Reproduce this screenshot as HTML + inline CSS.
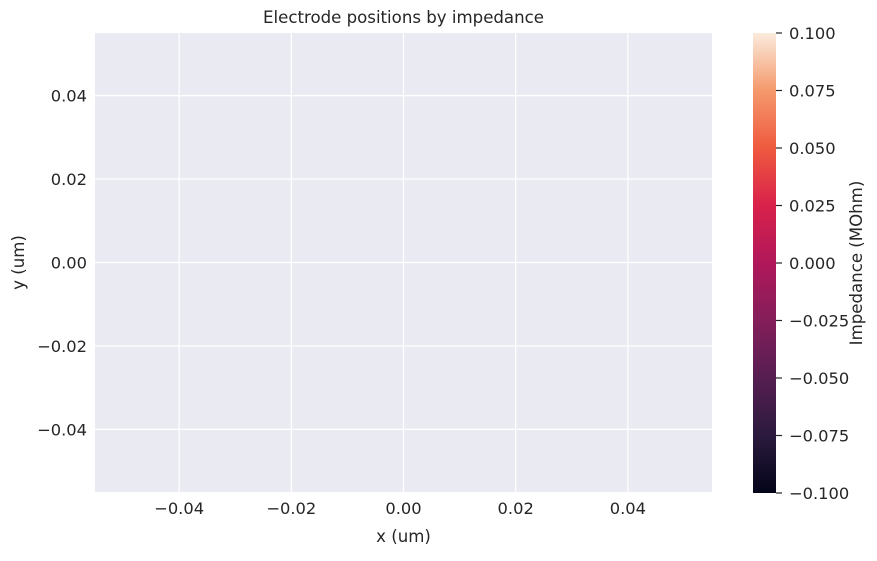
<!DOCTYPE html>
<html><head><meta charset="utf-8"><style>
body{margin:0;background:#fff;font-family:"Liberation Sans","DejaVu Sans",sans-serif;}
svg text{fill:#262626;font-family:"DejaVu Sans","Liberation Sans",sans-serif;}
</style></head><body>
<svg id="chart" width="877" height="556" xmlns="http://www.w3.org/2000/svg">
<defs>
<linearGradient id="rocket" x1="0" y1="1" x2="0" y2="0">
<stop offset="0" stop-color="#03051a"/>
<stop offset="0.125" stop-color="#2b1a3d"/>
<stop offset="0.25" stop-color="#561e52"/>
<stop offset="0.375" stop-color="#841e5a"/>
<stop offset="0.5" stop-color="#b0185a"/>
<stop offset="0.625" stop-color="#d9214b"/>
<stop offset="0.75" stop-color="#ef5a3f"/>
<stop offset="0.875" stop-color="#f5996c"/>
<stop offset="1" stop-color="#faebdd"/>
</linearGradient>
</defs>
<g id="plot"></g>
</svg>
<script>
const xTicks=[-0.04,-0.02,0.00,0.02,0.04];
const yTicks=[-0.04,-0.02,0.00,0.02,0.04];
const cTicks=[-0.100,-0.075,-0.050,-0.025,0.000,0.025,0.050,0.075,0.100];
const xs=[];const ys=[];const zs=[];
const xDomain=[-0.055,0.055];const yDomain=[-0.055,0.055];const cDomain=[-0.1,0.1];
const L=95,R=712,T=33,B=492;
const sx=v=>L+(v-xDomain[0])/(xDomain[1]-xDomain[0])*(R-L);
const sy=v=>B-(v-yDomain[0])/(yDomain[1]-yDomain[0])*(B-T);
const CT=33,CB=493,CL=753,CR=776;
const sc=v=>CB-(v-cDomain[0])/(cDomain[1]-cDomain[0])*(CB-CT);
const g=document.getElementById('plot');const NS='http://www.w3.org/2000/svg';
function mk(t,a,txt){const e=document.createElementNS(NS,t);for(const k in a)e.setAttribute(k,a[k]);if(txt!==undefined)e.textContent=txt;g.appendChild(e);return e;}
const fmt=(v,d)=>(v<0?'\u2212':'')+Math.abs(v).toFixed(d);
let bg=mk('rect',{x:L,y:T,width:R-L,height:B-T,fill:'#eaeaf2'});


xTicks.forEach(v=>{const x=sx(v);
let l=mk('line',{x1:x,x2:x,y1:T,y2:B,stroke:'#fff','stroke-width':1.25});


let t=mk('text',{x:x,y:B+22,'text-anchor':'middle','font-size':16.3},fmt(v,2));

});
yTicks.forEach(v=>{const y=sy(v);
let l=mk('line',{x1:L,x2:R,y1:y,y2:y,stroke:'#fff','stroke-width':1.25});


let t=mk('text',{x:L-8,y:y+6,'text-anchor':'end','font-size':16.3},fmt(v,2));

});
xs.forEach((v,i)=>{let c=mk('circle',{cx:sx(v),cy:sy(ys[i]),r:4,fill:'#b0185a'});

});
let ti=mk('text',{x:(L+R)/2,y:23,'text-anchor':'middle','font-size':16.6},'Electrode positions by impedance');


let xl=mk('text',{x:(L+R)/2,y:542,'text-anchor':'middle','font-size':16.6},'x (um)');


let yl=mk('text',{x:24,y:(T+B)/2,'text-anchor':'middle','font-size':16.6,transform:`rotate(-90 24 ${(T+B)/2})`},'y (um)');


let cb=mk('rect',{x:CL,y:CT,width:CR-CL,height:CB-CT,fill:'url(#rocket)'});


cTicks.forEach(v=>{const y=sc(v);
let l=mk('line',{x1:CR,x2:CR+6,y1:y,y2:y,stroke:'#262626','stroke-width':1.2});


let t=mk('text',{x:CR+13,y:y+6,'font-size':16.3},fmt(v,3));

});
let cl=mk('text',{x:862,y:(CT+CB)/2,'text-anchor':'middle','font-size':16.6,transform:`rotate(-90 862 ${(CT+CB)/2})`},'Impedance (MOhm)');


</script>
</body></html>
